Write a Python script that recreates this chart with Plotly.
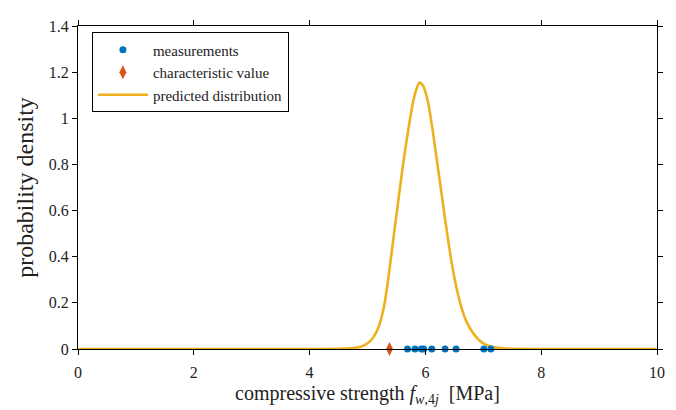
import plotly.graph_objects as go

# measurements (MPa)
meas_x = [5.69, 5.82, 5.93, 5.97, 6.11, 6.34, 6.53, 7.01, 7.13]
meas_y = [0, 0, 0, 0, 0, 0, 0, 0, 0]
# characteristic value
char_x = [5.38]
char_y = [0]
# predicted distribution
dist_x = [0.0, 4.0, 4.5, 4.7, 4.85, 4.95, 5.05, 5.12, 5.19, 5.25, 5.30, 5.38, 5.45, 5.53, 5.62, 5.67,
          5.72, 5.76, 5.80, 5.85, 5.90, 5.95, 6.00, 6.05, 6.10, 6.15, 6.20, 6.25, 6.30, 6.35, 6.40,
          6.45, 6.50, 6.55, 6.60, 6.65, 6.70, 6.77, 6.85, 6.93, 7.0, 7.1, 7.2, 7.35, 7.5, 7.8, 10.0]
dist_y = [0.0, 0.0, 0.0005, 0.003, 0.008, 0.017, 0.035, 0.058, 0.094, 0.145, 0.205, 0.345, 0.485, 0.64,
          0.81, 0.895, 0.975, 1.035, 1.085, 1.13, 1.155, 1.145, 1.115, 1.065, 0.99, 0.905, 0.815,
          0.725, 0.635, 0.545, 0.46, 0.38, 0.31, 0.25, 0.20, 0.158, 0.124, 0.09, 0.06, 0.038, 0.024,
          0.013, 0.007, 0.003, 0.001, 0.0, 0.0]

x_ticks = [0, 2, 4, 6, 8, 10]
y_ticks = [0, 0.2, 0.4, 0.6, 0.8, 1.0, 1.2, 1.4]
y_ticklabels = ["0", "0.2", "0.4", "0.6", "0.8", "1", "1.2", "1.4"]

FONT = "Liberation Serif"

fig = go.Figure()
fig.add_trace(go.Scatter(x=dist_x, y=dist_y, mode="lines", name="predicted distribution",
                         line=dict(color="#EDB120", width=2.6, shape="spline", smoothing=0.5),
                         cliponaxis=False, legendrank=3))
fig.add_trace(go.Scatter(x=meas_x, y=meas_y, mode="markers", name="measurements",
                         marker=dict(symbol="circle", size=7, color="#0072BD"),
                         cliponaxis=False, legendrank=1))
fig.add_trace(go.Scatter(x=char_x, y=char_y, mode="markers", name="characteristic value",
                         marker=dict(symbol="diamond-tall", size=10, color="#D95319"),
                         cliponaxis=False, legendrank=2))

axis_common = dict(showline=True, linecolor="black", linewidth=1, mirror="ticks",
                   ticks="outside", ticklen=5, tickcolor="black", showgrid=False,
                   zeroline=False, tickfont=dict(family=FONT, size=16, color="#222"))

fig.update_layout(
    width=676, height=410,
    # the page body adds an 8px offset, margins compensate for it
    margin=dict(l=70, r=27, t=10, b=69),
    paper_bgcolor="white", plot_bgcolor="white",
    font=dict(family=FONT, color="#222"),
    xaxis=dict(range=[0, 10], tickvals=x_ticks, ticklabelstandoff=4,
               title=dict(text="compressive strength <i>f</i><sub><i>w</i>,4<i>j</i></sub>&nbsp; [MPa]",
                          font=dict(family=FONT, size=20), standoff=5),
               **axis_common),
    yaxis=dict(range=[0, 1.4], tickvals=y_ticks, ticktext=y_ticklabels,
               title=dict(text="probability density", font=dict(family=FONT, size=24), standoff=8),
               **axis_common),
    legend=dict(x=0.024, y=0.98, xanchor="left", yanchor="top",
                bordercolor="black", borderwidth=1, bgcolor="white",
                font=dict(family=FONT, size=15, color="#222"), itemwidth=50, tracegroupgap=0),
    showlegend=True,
)

fig.write_html("out.html")
